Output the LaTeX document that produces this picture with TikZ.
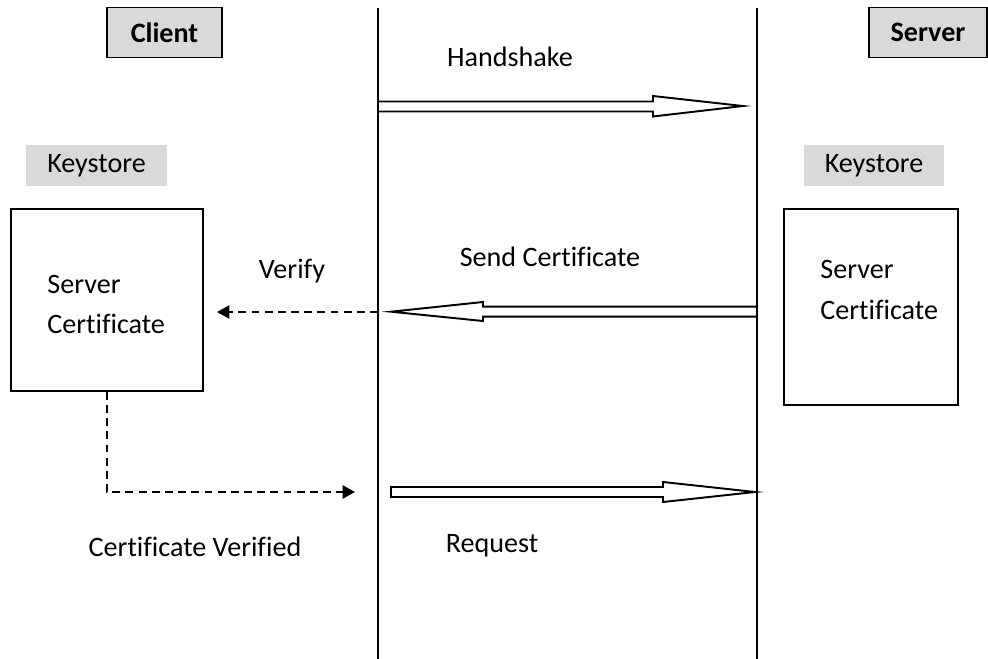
\documentclass[tikz,border=0pt]{standalone}
\usepackage{fontspec}
\setmainfont[Ligatures=NoCommon]{Carlito}
\usetikzlibrary{arrows.meta,positioning,calc}
\tikzset{actorbox/.style={draw=black, fill=black!15, line width=1.1pt, minimum height=1cm, font=\fontsize{16}{19}\selectfont\bfseries}}
\tikzset{keybox/.style={fill=black!15, minimum width=2.82cm, minimum height=0.82cm}}
\tikzset{storebox/.style={draw=black, line width=1pt}}
\tikzset{lbl/.style={inner sep=0pt}}
\tikzset{life/.style={line width=1pt}}
\tikzset{fat/.style={line width=1.1pt, line join=miter}}
\tikzset{dashline/.style={line width=1pt, dash pattern=on 4.5pt off 3pt, -{Triangle[length=7pt,width=7.5pt]}}}

\begin{document}
\begin{tikzpicture}[x=0.02cm, y=-0.02cm, font=\fontsize{16}{19}\selectfont]
                        \useasboundingbox (0, 0) rectangle (988, 659);

                        % the two parties
                        \node[actorbox, minimum width=2.3cm] (client) at (164.5, 32.5) {Client};
                        \node[actorbox, minimum width=2.36cm] (server) at (928, 32.5) {Server};

                        % lifelines
                        \coordinate (ltop) at (378, 8);
                        \coordinate (lbot) at (378, 659);
                        \coordinate (rtop) at (757, 8);
                        \coordinate (rbot) at (757, 659);
                        \draw[life] (ltop) -- (lbot);
                        \draw[life] (rtop) -- (rbot);

                        % keystores
                        \node[keybox] (lkey) at (96.5, 165.5) {Keystore};
                        \node[keybox] (rkey) at (874, 165.5) {Keystore};

                        \node[storebox, minimum width=3.84cm, minimum height=3.64cm] (lstore) at (107, 300) {};
                        \node[storebox, minimum width=3.48cm, minimum height=3.92cm] (rstore) at (871, 307) {};

                        \node[lbl, anchor=west] (lsrv) at (47, 284) {Server};
                        \node[lbl, anchor=west] (lcert) at (47, 324) {Certificate};
                        \node[lbl, anchor=west] (rsrv) at (820, 269) {Server};
                        \node[lbl, anchor=west] (rcert) at (820, 310) {Certificate};

                        % messages
                        \node[lbl] (hs) at (510, 57) {Handshake};
                        \node[lbl] (send) at (550, 257) {Send Certificate};
                        \node[lbl] (verify) at (292, 271) {Verify};
                        \node[lbl] (req) at (492, 546) {Request};
                        \node[lbl] (done) at (195, 547) {Certificate Verified};

                        \draw[fat] (378, 101.5) -- (653, 101.5) -- (653, 96) -- (743, 106)
                            -- (653, 116.5) -- (653, 111.5) -- (378, 111.5);
                        \draw[fat] (757, 306.7) -- (483, 306.7) -- (483, 302) -- (391, 311.7)
                            -- (483, 321) -- (483, 316.7) -- (757, 316.7);
                        \draw[fat] (391, 487) -- (663, 487) -- (663, 482) -- (755, 492)
                            -- (663, 502) -- (663, 497) -- (391, 497) -- cycle;

                        % checking the certificate
                        \coordinate (vfrom) at (378, 312);
                        \coordinate (vto) at (217, 312);
                        \coordinate (chk) at (355, 492);
                        \draw[dashline] (vfrom) -- (vto);
                        \draw[dashline] (lstore.south) |- (chk);
                    \end{tikzpicture}
\end{document}
